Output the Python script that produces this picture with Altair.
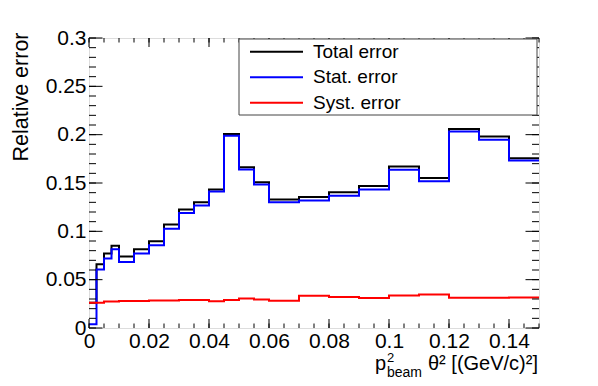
import altair as alt
import pandas as pd

# ---- data ----
edges = [0, 0.0025, 0.005, 0.0075, 0.01, 0.015, 0.02, 0.025, 0.03, 0.035, 0.04,
         0.045, 0.05, 0.055, 0.06, 0.07, 0.08, 0.09, 0.10, 0.11, 0.12, 0.13, 0.14, 0.15]
total = [0.026, 0.066, 0.077, 0.0852, 0.0739, 0.0814, 0.0897, 0.107, 0.1227, 0.130,
         0.1433, 0.2007, 0.1663, 0.1509, 0.133, 0.1354, 0.1405, 0.147, 0.167, 0.1553,
         0.2058, 0.198, 0.1756]
stat = [0.004, 0.0605, 0.0718, 0.0814, 0.0684, 0.077, 0.0856, 0.1027, 0.1189, 0.1268,
        0.1412, 0.199, 0.164, 0.1485, 0.1302, 0.132, 0.1368, 0.1433, 0.1636, 0.1519,
        0.2034, 0.1948, 0.1732]
syst = [0.026, 0.026, 0.0275, 0.0275, 0.028, 0.028, 0.0285, 0.0285, 0.029, 0.029,
        0.0278, 0.0289, 0.0306, 0.0296, 0.0282, 0.0333, 0.032, 0.031, 0.0337, 0.0347,
        0.0313, 0.0313, 0.0316]
names = ["Total error", "Stat. error", "Syst. error"]
colors = ["#000000", "#0000ff", "#ff0000"]
x_major = [0, 0.02, 0.04, 0.06, 0.08, 0.10, 0.12, 0.14]
y_major = [0, 0.05, 0.10, 0.15, 0.20, 0.25, 0.30]
x_minor = [round(i * 0.005, 4) for i in range(31)]
y_minor = [round(i * 0.01, 3) for i in range(31)]
y_title = "Relative error"
x_title_parts = ["p", "2", "beam", "θ² [(GeV/c)²]"]

FONT = "Liberation Sans"
W, H = 450, 290

xs = alt.Scale(domain=[0, 0.15], nice=False, zero=False)
ys = alt.Scale(domain=[0, 0.3], nice=False, zero=False)

xaxis = alt.Axis(values=x_major, format="~g", title=None, ticks=False, domain=False,
                 grid=False, labelFontSize=21, labelFont=FONT, labelColor="#000",
                 labelPadding=2, labelFlush=False)
yaxis = alt.Axis(values=y_major, format="~g", title=y_title, ticks=False, domain=False,
                 grid=False, labelFontSize=21, labelFont=FONT, labelColor="#000",
                 labelPadding=3, titleFont=FONT, titleFontSize=21.5,
                 titleFontWeight="normal", titleColor="#000", titleAngle=270,
                 titleAlign="right", titleBaseline="middle", titleX=-68, titleY=-6)

xenc = alt.X("x:Q", scale=xs, axis=xaxis)
yenc = alt.Y("y:Q", scale=ys, axis=yaxis)


def steps(vals):
    return pd.DataFrame({"x": edges, "y": vals + [vals[-1]]})


layers = []
for vals, col in zip([total, stat, syst], colors):
    layers.append(
        alt.Chart(steps(vals)).mark_line(interpolate="step-after", strokeWidth=2,
                                         clip=True, color=col)
        .encode(x=xenc, y=yenc)
    )

# ---- inward ticks (ROOT style) ----
ymaj = pd.DataFrame({"y": y_major})
ymin = pd.DataFrame({"y": y_minor})
xmaj = pd.DataFrame({"x": x_major})
xmin = pd.DataFrame({"x": x_minor})
rule = dict(color="#000", strokeWidth=1)
layers += [
    alt.Chart(ymin).mark_rule(**rule).encode(y=yenc, x=alt.value(0), x2=alt.value(7)),
    alt.Chart(ymaj).mark_rule(**rule).encode(y=yenc, x=alt.value(0), x2=alt.value(13.5)),
    alt.Chart(ymin).mark_rule(**rule).encode(y=yenc, x=alt.value(W - 7), x2=alt.value(W)),
    alt.Chart(ymaj).mark_rule(**rule).encode(y=yenc, x=alt.value(W - 13.5), x2=alt.value(W)),
    alt.Chart(xmin).mark_rule(**rule).encode(x=xenc, y=alt.value(H - 4.5), y2=alt.value(H)),
    alt.Chart(xmaj).mark_rule(**rule).encode(x=xenc, y=alt.value(H - 9), y2=alt.value(H)),
    alt.Chart(xmin).mark_rule(**rule).encode(x=xenc, y=alt.value(0), y2=alt.value(4.5)),
    alt.Chart(xmaj).mark_rule(**rule).encode(x=xenc, y=alt.value(0), y2=alt.value(9)),
]

# ---- legend box ----
one = pd.DataFrame({"a": [0]})
layers.append(
    alt.Chart(one).mark_rect(fill="white", stroke="#444", strokeWidth=1)
    .encode(x=alt.value(150), x2=alt.value(448), y=alt.value(1), y2=alt.value(77))
)
for i, (nm, col) in enumerate(zip(names, colors)):
    yy = 13.7 + 25.5 * i
    d = pd.DataFrame({"name": [nm]})
    layers.append(alt.Chart(d).mark_rule(color=col, strokeWidth=2)
                  .encode(x=alt.value(161), x2=alt.value(214), y=alt.value(yy)))
    layers.append(alt.Chart(d).mark_text(align="left", baseline="middle", font=FONT,
                                         fontSize=19, color="#000")
                  .encode(text="name:N", x=alt.value(224), y=alt.value(yy)))

# ---- x axis title (TLatex-like) ----
tparts = pd.DataFrame({"t": x_title_parts})
specs = [
    (0, dict(align="left", fontSize=20), 286, 332),
    (1, dict(align="left", fontSize=13), 298, 324),
    (2, dict(align="left", fontSize=14), 298, 338.5),
    (3, dict(align="right", fontSize=20), 449, 332),
]
for idx, kw, xx, yy in specs:
    layers.append(
        alt.Chart(tparts.iloc[[idx]]).mark_text(baseline="alphabetic", font=FONT,
                                                color="#000", **kw)
        .encode(text="t:N", x=alt.value(xx), y=alt.value(yy))
    )

chart = (
    alt.layer(*layers)
    .properties(width=W, height=H, autosize="none",
                padding={"left": 81, "top": 30, "right": 51, "bottom": 50})
    .configure_view(stroke="#000", strokeWidth=1)
    .configure(background="white")
)

chart.save("out.html", embed_options={"renderer": "svg", "actions": False})
